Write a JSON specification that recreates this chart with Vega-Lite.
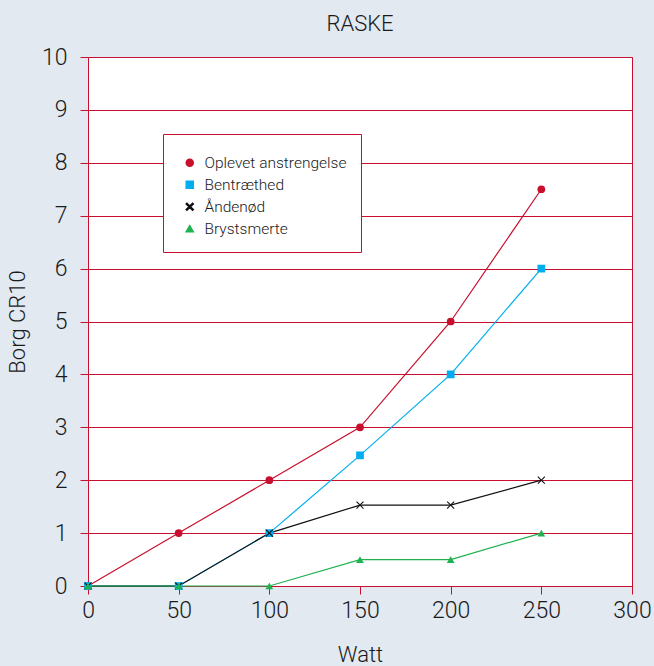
{
  "$schema": "https://vega.github.io/schema/vega-lite/v6.json",
  "width": 544,
  "height": 529,
  "autosize": {"type": "none"},
  "padding": {"left": 88, "top": 57, "right": 22, "bottom": 80},
  "background": "#e2e9f1",
  "title": {"text": "RASKE", "fontSize": 22, "fontWeight": 300, "font": "Roboto", "color": "#1a1a1a", "offset": 10, "anchor": "middle"},
  "config": {
    "font": "Roboto",
    "view": {"fill": "white", "stroke": "#c8102e", "strokeWidth": 1}
  },
  "data": {
    "values": [
      {"serie": "Oplevet anstrengelse", "watt": 0, "borg": 0},
      {"serie": "Oplevet anstrengelse", "watt": 50, "borg": 1},
      {"serie": "Oplevet anstrengelse", "watt": 100, "borg": 2},
      {"serie": "Oplevet anstrengelse", "watt": 150, "borg": 3},
      {"serie": "Oplevet anstrengelse", "watt": 200, "borg": 5},
      {"serie": "Oplevet anstrengelse", "watt": 250, "borg": 7.5},
      {"serie": "Bentræthed", "watt": 0, "borg": 0},
      {"serie": "Bentræthed", "watt": 50, "borg": 0},
      {"serie": "Bentræthed", "watt": 100, "borg": 1},
      {"serie": "Bentræthed", "watt": 150, "borg": 2.47},
      {"serie": "Bentræthed", "watt": 200, "borg": 4},
      {"serie": "Bentræthed", "watt": 250, "borg": 6},
      {"serie": "Åndenød", "watt": 0, "borg": 0},
      {"serie": "Åndenød", "watt": 50, "borg": 0},
      {"serie": "Åndenød", "watt": 100, "borg": 1},
      {"serie": "Åndenød", "watt": 150, "borg": 1.53},
      {"serie": "Åndenød", "watt": 200, "borg": 1.53},
      {"serie": "Åndenød", "watt": 250, "borg": 2},
      {"serie": "Brystsmerte", "watt": 0, "borg": 0},
      {"serie": "Brystsmerte", "watt": 50, "borg": 0},
      {"serie": "Brystsmerte", "watt": 100, "borg": 0},
      {"serie": "Brystsmerte", "watt": 150, "borg": 0.5},
      {"serie": "Brystsmerte", "watt": 200, "borg": 0.5},
      {"serie": "Brystsmerte", "watt": 250, "borg": 1}
    ]
  },
  "mark": {"type": "line", "strokeWidth": 1.2, "point": {"filled": true, "size": 60, "opacity": 1}},
  "encoding": {
    "x": {
      "field": "watt", "type": "quantitative",
      "scale": {"domain": [0, 300], "nice": false},
      "axis": {
        "title": "Watt", "values": [0, 50, 100, 150, 200, 250, 300],
        "grid": false, "domainColor": "#c8102e", "tickColor": "#c8102e", "tickSize": 8,
        "labelFontSize": 23, "labelFontWeight": 300, "labelColor": "#1a1a1a", "labelPadding": 5, "labelFont": "Roboto", "labelFlush": false,
        "titleFontSize": 22, "titleFontWeight": 300, "titleColor": "#1a1a1a", "titlePadding": 22, "titleFont": "Roboto"
      }
    },
    "y": {
      "field": "borg", "type": "quantitative",
      "scale": {"domain": [0, 10], "nice": false},
      "axis": {
        "title": "Borg CR10", "values": [0, 1, 2, 3, 4, 5, 6, 7, 8, 9, 10],
        "grid": true, "gridColor": "#c8102e", "gridWidth": 1,
        "domainColor": "#c8102e", "tickColor": "#c8102e", "tickSize": 8,
        "labelFontSize": 23, "labelFontWeight": 300, "labelColor": "#1a1a1a", "labelPadding": 13, "labelFont": "Roboto", "labelFlush": false,
        "titleFontSize": 22, "titleFontWeight": 300, "titleColor": "#1a1a1a", "titlePadding": 12, "titleFont": "Roboto"
      }
    },
    "color": {
      "field": "serie", "type": "nominal", "title": " ",
      "scale": {"domain": ["Oplevet anstrengelse", "Bentræthed", "Åndenød", "Brystsmerte"], "range": ["#c8102e", "#00aeef", "#111111", "#1fb250"]},
      "legend": {
        "orient": "none", "legendX": 75, "legendY": 77,
        "strokeColor": "#c8102e", "fillColor": "white",
        "padding": 14, "rowPadding": 5, "symbolSize": 50, "symbolOffset": 5,
        "titleFontSize": 4, "titlePadding": 3,
        "labelFontSize": 15.5, "labelFontWeight": 300, "labelColor": "#1a1a1a", "labelFont": "Roboto", "labelOffset": 7,
        "labelLimit": 300
      }
    },
    "shape": {
      "field": "serie", "type": "nominal", "title": " ",
      "scale": {"domain": ["Oplevet anstrengelse", "Bentræthed", "Åndenød", "Brystsmerte"], "range": ["circle", "square", "M-1,-0.8L-0.8,-1L0,-0.2L0.8,-1L1,-0.8L0.2,0L1,0.8L0.8,1L0,0.2L-0.8,1L-1,0.8L-0.2,0Z", "triangle-up"]},
      "legend": {
        "orient": "none", "legendX": 75, "legendY": 77,
        "strokeColor": "#c8102e", "fillColor": "white",
        "padding": 14, "rowPadding": 5, "symbolSize": 50, "symbolOffset": 5,
        "titleFontSize": 4, "titlePadding": 3,
        "labelFontSize": 15.5, "labelFontWeight": 300, "labelColor": "#1a1a1a", "labelFont": "Roboto", "labelOffset": 7,
        "labelLimit": 300
      }
    }
  }
}
